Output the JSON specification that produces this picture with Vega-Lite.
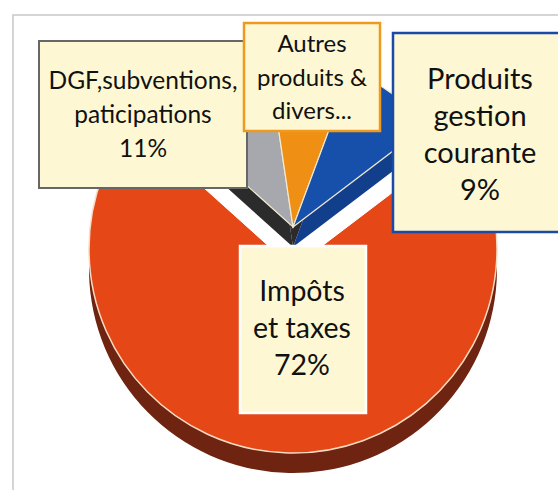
{"$schema":"https://vega.github.io/schema/vega-lite/v6.json","autosize":"none","padding":{"left":13,"top":15,"right":0,"bottom":0},"width":560,"height":520,"background":"#ffffff","view":{"stroke":"#c8c8c8","strokeWidth":1.5},"data":{"values":[{"rank":1,"name":"DGF,subventions,paticipations","value":11,"lines":["DGF,subventions,","paticipations","11%"]},{"rank":2,"name":"Autres produits & divers...","value":8,"lines":["Autres","produits &","divers..."]},{"rank":3,"name":"Produits gestion courante","value":9,"lines":["Produits","gestion","courante","9%"]},{"rank":4,"name":"Impôts et taxes","value":72,"lines":["Impôts","et taxes","72%"]}]},"transform":[{"stack":"value","groupby":[],"sort":[{"field":"rank"}],"as":["v0","v1"]}],"layer":[
{"transform":[{"filter":"datum.rank==4"}],"mark":{"type":"arc","x":280,"y":254,"outerRadius":204,"fill":"#6e2410"},"encoding":{"theta":{"field":"v0","type":"quantitative","scale":{"domain":[0,100],"range":[-0.838,5.445]}},"theta2":{"field":"v1"}}},
{"transform":[{"filter":"datum.rank==4"}],"mark":{"type":"arc","x":280,"y":234,"outerRadius":204,"fill":"#e54717","stroke":"#f7dcc4","strokeWidth":1.5},"encoding":{"theta":{"field":"v0","type":"quantitative","scale":{"domain":[0,100],"range":[-0.838,5.445]}},"theta2":{"field":"v1"}}},
{"transform":[{"filter":"datum.rank<4"}],"mark":{"type":"arc","x":280,"y":253,"outerRadius":235,"fill":"#ffffff","stroke":"#ffffff"},"encoding":{"theta":{"field":"v0","type":"quantitative","scale":{"domain":[0,100],"range":[-0.838,5.445]}},"theta2":{"field":"v1"}}},
{"transform":[{"filter":"datum.rank==1 || datum.rank==2"}],"mark":{"type":"arc","x":280,"y":232,"outerRadius":166,"fill":"#2b2b2b"},"encoding":{"theta":{"field":"v0","type":"quantitative","scale":{"domain":[0,100],"range":[-0.838,5.445]}},"theta2":{"field":"v1"}}},
{"transform":[{"filter":"datum.rank==3"}],"mark":{"type":"arc","x":280,"y":232,"outerRadius":166,"fill":"#123f8c"},"encoding":{"theta":{"field":"v0","type":"quantitative","scale":{"domain":[0,100],"range":[-0.838,5.445]}},"theta2":{"field":"v1"}}},
{"transform":[{"filter":"datum.rank<4"}],"mark":{"type":"arc","x":280,"y":212,"outerRadius":166,"stroke":"#f3ead2","strokeWidth":1.2},"encoding":{"theta":{"field":"v0","type":"quantitative","scale":{"domain":[0,100],"range":[-0.838,5.445]}},"theta2":{"field":"v1"},"color":{"field":"rank","type":"nominal","legend":null,"scale":{"domain":[1,2,3],"range":["#a6a8ad","#ef8f14","#1650ab"]}}}},
{"transform":[{"filter":"datum.rank==1"}],"mark":{"type":"rect","fill":"#fdf8d3","stroke":"#666666","strokeWidth":2},"encoding":{"x":{"value":26},"x2":{"value":234},"y":{"value":26},"y2":{"value":173}}},
{"transform":[{"filter":"datum.rank==2"}],"mark":{"type":"rect","fill":"#fdf8d3","stroke":"#ef9a1e","strokeWidth":2.5},"encoding":{"x":{"value":231},"x2":{"value":367},"y":{"value":8},"y2":{"value":116}}},
{"transform":[{"filter":"datum.rank==3"}],"mark":{"type":"rect","fill":"#fdf8d3","stroke":"#1a4aa8","strokeWidth":2.5},"encoding":{"x":{"value":380},"x2":{"value":570},"y":{"value":18},"y2":{"value":217}}},
{"transform":[{"filter":"datum.rank==4"}],"mark":{"type":"rect","fill":"#fdf8d3","stroke":"#ffffff","strokeWidth":2.5},"encoding":{"x":{"value":227},"x2":{"value":353},"y":{"value":231},"y2":{"value":398}}},
{"transform":[{"filter":"datum.rank==1"}],"mark":{"type":"text","font":"Lato","fontSize":24.5,"lineHeight":34,"color":"#111111","align":"center","baseline":"middle"},"encoding":{"text":{"field":"lines"},"x":{"value":130},"y":{"value":67}}},
{"transform":[{"filter":"datum.rank==2"}],"mark":{"type":"text","font":"Lato","fontSize":24,"lineHeight":33.5,"color":"#111111","align":"center","baseline":"middle"},"encoding":{"text":{"field":"lines"},"x":{"value":299},"y":{"value":30}}},
{"transform":[{"filter":"datum.rank==3"}],"mark":{"type":"text","font":"Lato","fontSize":29,"lineHeight":37,"color":"#111111","align":"center","baseline":"middle"},"encoding":{"text":{"field":"lines"},"x":{"value":467},"y":{"value":65}}},
{"transform":[{"filter":"datum.rank==4"}],"mark":{"type":"text","font":"Lato","fontSize":28.5,"lineHeight":37,"color":"#111111","align":"center","baseline":"middle"},"encoding":{"text":{"field":"lines"},"x":{"value":289},"y":{"value":277}}}
]}
